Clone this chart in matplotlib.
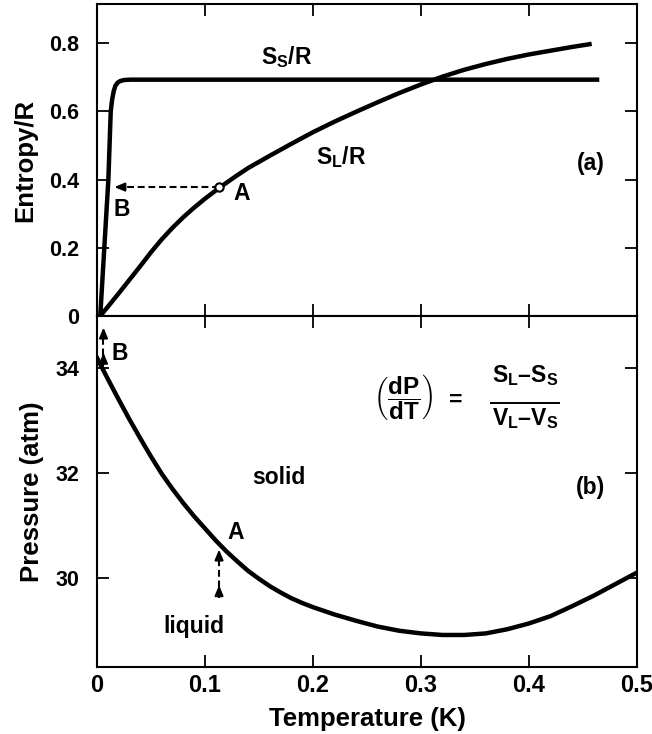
import matplotlib
matplotlib.use("Agg")
import matplotlib.pyplot as plt

# panel (a): entropy of solid and liquid 3He
t_solid = [0.003, 0.0105, 0.0127, 0.0140, 0.0155, 0.0170, 0.019, 0.0215, 0.025, 0.031,
           0.10, 0.20, 0.30, 0.40, 0.463]
s_solid = [0.0, 0.40, 0.60, 0.635, 0.660, 0.675, 0.684, 0.689, 0.692, 0.693,
           0.693, 0.693, 0.693, 0.693, 0.693]

t_liquid = [0.003, 0.01, 0.02, 0.03, 0.04, 0.05, 0.06, 0.07, 0.08, 0.09, 0.10, 0.11,
            0.12, 0.13, 0.14, 0.15, 0.16, 0.18, 0.20, 0.22, 0.24, 0.26, 0.28, 0.30,
            0.32, 0.34, 0.36, 0.38, 0.40, 0.42, 0.44, 0.456]
s_liquid = [0.0, 0.027, 0.066, 0.106, 0.146, 0.187, 0.225, 0.259, 0.290, 0.318, 0.344, 0.368,
            0.391, 0.413, 0.434, 0.452, 0.470, 0.505, 0.539, 0.570, 0.599, 0.627, 0.654, 0.679,
            0.702, 0.722, 0.739, 0.754, 0.767, 0.778, 0.789, 0.797]

# panel (b): melting curve
t_melt = [0.0, 0.01, 0.02, 0.03, 0.04, 0.05, 0.06, 0.07, 0.08, 0.09, 0.10, 0.11, 0.12,
          0.13, 0.14, 0.15, 0.16, 0.17, 0.18, 0.19, 0.20, 0.22, 0.24, 0.26, 0.28, 0.30,
          0.32, 0.34, 0.36, 0.38, 0.40, 0.42, 0.44, 0.46, 0.48, 0.50]
p_melt = [34.20, 33.80, 33.41, 33.03, 32.67, 32.32, 31.99, 31.70, 31.43, 31.18, 30.95, 30.72,
          30.51, 30.32, 30.14, 29.99, 29.85, 29.73, 29.62, 29.53, 29.45, 29.31, 29.19, 29.08,
          29.00, 28.95, 28.92, 28.92, 28.95, 29.03, 29.14, 29.28, 29.47, 29.67, 29.89, 30.11]

# points A and B
a_t, a_s = 0.113, 0.378
b_t = 0.016
a_p_low, a_p_mid, a_p_top = 29.62, 29.87, 30.55
b_melt_t = 0.006
b_p_low, b_p_mid, b_p_top = 34.05, 34.30, 34.78

plt.rcParams['font.family'] = ['Liberation Sans', 'DejaVu Sans']
plt.rcParams['font.weight'] = 'bold'
plt.rcParams['mathtext.fontset'] = 'custom'
plt.rcParams['mathtext.rm'] = 'Liberation Sans:bold'
plt.rcParams['mathtext.it'] = 'Liberation Sans:bold'
plt.rcParams['mathtext.bf'] = 'Liberation Sans:bold'

fig = plt.figure(figsize=(6.52, 7.34), dpi=100)
ax1 = fig.add_axes([0.1488, 0.5695, 0.8282, 0.4251])
ax2 = fig.add_axes([0.1488, 0.0913, 0.8282, 0.4782])

lw = 3.2
dash = (0, (3.3, 1.8))
fs = 16.5

for ax in (ax1, ax2):
    for sp in ax.spines.values():
        sp.set_linewidth(1.5)
    ax.tick_params(direction='in', length=8.5, width=1.3, top=True, right=True)
    ax.tick_params(axis='y', labelsize=15.5, pad=13)
    ax.tick_params(axis='x', labelsize=17, pad=5)
    ax.set_xlim(0, 0.5)
    ax.set_xticks([0, 0.1, 0.2, 0.3, 0.4, 0.5])

# ---- panel (a)
ax1.plot(t_solid, s_solid, color='k', lw=lw, solid_joinstyle='round')
ax1.plot(t_liquid, s_liquid, color='k', lw=lw, solid_joinstyle='round')
ax1.plot([a_t, b_t + 0.006], [a_s, a_s], color='k', lw=1.5, linestyle=dash)
ax1.annotate('', xy=(b_t, a_s), xytext=(b_t + 0.008, a_s),
             arrowprops=dict(arrowstyle='-|>,head_length=0.6,head_width=0.25',
                             color='k', lw=1.5, shrinkA=0, shrinkB=0))
ax1.plot([a_t], [a_s], marker='o', ms=6, mfc='white', mec='k', mew=1.5)
ax1.set_ylim(0, 0.915)
ax1.set_yticks([0, 0.2, 0.4, 0.6, 0.8])
ax1.set_yticklabels(['0', '0.2', '0.4', '0.6', '0.8'])
ax1.tick_params(labelbottom=False)
ax1.set_ylabel('Entropy/R', fontsize=18.5, fontweight='bold', labelpad=8)

ax1.text(0.176, 0.760, r'S$_\mathrm{S}$/R', fontsize=fs, ha='center', va='center')
ax1.text(0.226, 0.466, r'S$_\mathrm{L}$/R', fontsize=fs, ha='center', va='center')
ax1.text(0.457, 0.448, '(a)', fontsize=fs, ha='center', va='center')
ax1.text(0.134, 0.360, 'A', fontsize=fs, ha='center', va='center')
ax1.text(0.0229, 0.313, 'B', fontsize=fs, ha='center', va='center')

# ---- panel (b)
ax2.plot(t_melt, p_melt, color='k', lw=lw, solid_joinstyle='round')
for t, lo, mid, top in [(a_t, a_p_low, a_p_mid, a_p_top),
                        (b_melt_t, b_p_low, b_p_mid, b_p_top)]:
    ax2.plot([t, t], [lo, top - 0.1], color='k', lw=1.5, linestyle=dash)
    for tip in (mid, top):
        ax2.annotate('', xy=(t, tip), xytext=(t, tip - 0.12),
                     arrowprops=dict(arrowstyle='-|>,head_length=0.6,head_width=0.25',
                                     color='k', lw=1.5, shrinkA=0, shrinkB=0))
ax2.set_ylim(28.31, 35.0)
ax2.set_yticks([30, 32, 34])
ax2.set_xticklabels(['0', '0.1', '0.2', '0.3', '0.4', '0.5'])
ax2.set_ylabel('Pressure (atm)', fontsize=18.5, fontweight='bold', labelpad=8)
ax2.set_xlabel('Temperature (K)', fontsize=18.5, fontweight='bold', labelpad=7)

ax2.text(0.021, 34.29, 'B', fontsize=fs, ha='center', va='center')
ax2.text(0.168, 31.93, 'solid', fontsize=fs, ha='center', va='center')
ax2.text(0.128, 30.87, 'A', fontsize=fs, ha='center', va='center')
ax2.text(0.0894, 29.08, 'liquid', fontsize=fs, ha='center', va='center')
ax2.text(0.457, 31.74, '(b)', fontsize=fs, ha='center', va='center')

# Clausius-Clapeyron relation
ax2.text(0.283, 33.45, r'$\left(\dfrac{dP}{dT}\right)$', fontsize=17.5,
         ha='center', va='center')
ax2.text(0.332, 33.40, '=', fontsize=fs, ha='center', va='center')
ax2.text(0.396, 33.86, 'S$_\\mathrm{L}$\u2013S$_\\mathrm{S}$', fontsize=fs,
         ha='center', va='center')
ax2.text(0.396, 33.04, 'V$_\\mathrm{L}$\u2013V$_\\mathrm{S}$', fontsize=fs,
         ha='center', va='center')
ax2.plot([0.3646, 0.4276], [33.34, 33.34], color='k', lw=1.4)

fig.savefig('out.png', dpi=100)
